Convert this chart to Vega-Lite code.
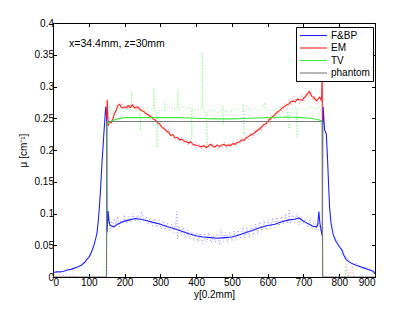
{
  "$schema": "https://vega.github.io/schema/vega-lite/v6.json",
  "width": 322,
  "height": 254,
  "autosize": {"type": "none"},
  "padding": {"left": 53, "top": 23, "right": 40, "bottom": 36},
  "background": "white",
  "config": {
    "view": {"stroke": "black", "strokeWidth": 1},
    "font": "Liberation Sans",
    "axis": {
      "grid": false,
      "domainColor": "black",
      "tickColor": "black",
      "labelColor": "black",
      "titleColor": "black",
      "labelFont": "Liberation Sans",
      "labelFontSize": 10,
      "titleFont": "Liberation Sans",
      "titleFontSize": 10,
      "titleFontWeight": "normal",
      "tickSize": -3.5
    },
    "legend": {
      "labelFont": "Liberation Sans",
      "labelFontSize": 10,
      "labelColor": "black"
    }
  },
  "datasets": {
    "main": [
      {"s":"F&BP","x":0,"y":0.007},{"s":"F&BP","x":10,"y":0.008},{"s":"F&BP","x":20,"y":0.008},{"s":"F&BP","x":30,"y":0.009},{"s":"F&BP","x":40,"y":0.011},{"s":"F&BP","x":50,"y":0.012},{"s":"F&BP","x":60,"y":0.014},{"s":"F&BP","x":70,"y":0.016},{"s":"F&BP","x":80,"y":0.019},{"s":"F&BP","x":90,"y":0.024},{"s":"F&BP","x":95,"y":0.028},{"s":"F&BP","x":100,"y":0.031},{"s":"F&BP","x":105,"y":0.036},{"s":"F&BP","x":110,"y":0.043},{"s":"F&BP","x":115,"y":0.051},{"s":"F&BP","x":120,"y":0.062},{"s":"F&BP","x":123,"y":0.07},{"s":"F&BP","x":126,"y":0.085},{"s":"F&BP","x":129,"y":0.105},{"s":"F&BP","x":132,"y":0.13},{"s":"F&BP","x":135,"y":0.16},{"s":"F&BP","x":138,"y":0.19},{"s":"F&BP","x":140,"y":0.205},{"s":"F&BP","x":142,"y":0.225},{"s":"F&BP","x":144,"y":0.24},{"s":"F&BP","x":146,"y":0.257},{"s":"F&BP","x":147.5,"y":0.268},{"s":"F&BP","x":149,"y":0.26},{"s":"F&BP","x":150,"y":0.245},{"s":"F&BP","x":151,"y":0.07},{"s":"F&BP","x":152,"y":0.08},{"s":"F&BP","x":154,"y":0.104},{"s":"F&BP","x":156,"y":0.09},{"s":"F&BP","x":159,"y":0.082},{"s":"F&BP","x":164,"y":0.08},{"s":"F&BP","x":170,"y":0.079},{"s":"F&BP","x":180,"y":0.083},{"s":"F&BP","x":190,"y":0.086},{"s":"F&BP","x":200,"y":0.088},{"s":"F&BP","x":215,"y":0.09},{"s":"F&BP","x":230,"y":0.092},{"s":"F&BP","x":245,"y":0.091},{"s":"F&BP","x":260,"y":0.089},{"s":"F&BP","x":280,"y":0.086},{"s":"F&BP","x":300,"y":0.083},{"s":"F&BP","x":320,"y":0.079},{"s":"F&BP","x":340,"y":0.076},{"s":"F&BP","x":360,"y":0.072},{"s":"F&BP","x":380,"y":0.068},{"s":"F&BP","x":400,"y":0.065},{"s":"F&BP","x":420,"y":0.063},{"s":"F&BP","x":440,"y":0.062},{"s":"F&BP","x":460,"y":0.061},{"s":"F&BP","x":480,"y":0.062},{"s":"F&BP","x":500,"y":0.063},{"s":"F&BP","x":520,"y":0.066},{"s":"F&BP","x":540,"y":0.07},{"s":"F&BP","x":560,"y":0.074},{"s":"F&BP","x":580,"y":0.078},{"s":"F&BP","x":600,"y":0.081},{"s":"F&BP","x":620,"y":0.083},{"s":"F&BP","x":640,"y":0.087},{"s":"F&BP","x":660,"y":0.09},{"s":"F&BP","x":675,"y":0.091},{"s":"F&BP","x":688,"y":0.093},{"s":"F&BP","x":697,"y":0.089},{"s":"F&BP","x":706,"y":0.086},{"s":"F&BP","x":716,"y":0.083},{"s":"F&BP","x":726,"y":0.08},{"s":"F&BP","x":736,"y":0.079},{"s":"F&BP","x":740,"y":0.082},{"s":"F&BP","x":743,"y":0.103},{"s":"F&BP","x":746,"y":0.085},{"s":"F&BP","x":750,"y":0.072},{"s":"F&BP","x":752,"y":0.065},{"s":"F&BP","x":753,"y":0.07},{"s":"F&BP","x":754,"y":0.24},{"s":"F&BP","x":755,"y":0.268},{"s":"F&BP","x":757,"y":0.25},{"s":"F&BP","x":759,"y":0.232},{"s":"F&BP","x":762,"y":0.228},{"s":"F&BP","x":764,"y":0.225},{"s":"F&BP","x":767,"y":0.19},{"s":"F&BP","x":770,"y":0.15},{"s":"F&BP","x":773,"y":0.11},{"s":"F&BP","x":777,"y":0.085},{"s":"F&BP","x":783,"y":0.067},{"s":"F&BP","x":790,"y":0.057},{"s":"F&BP","x":800,"y":0.048},{"s":"F&BP","x":808,"y":0.042},{"s":"F&BP","x":812,"y":0.035},{"s":"F&BP","x":820,"y":0.027},{"s":"F&BP","x":830,"y":0.023},{"s":"F&BP","x":840,"y":0.02},{"s":"F&BP","x":855,"y":0.017},{"s":"F&BP","x":870,"y":0.014},{"s":"F&BP","x":885,"y":0.011},{"s":"F&BP","x":895,"y":0.009},{"s":"F&BP","x":900,"y":0.005},
      {"s":"EM","x":150,"y":0.25},{"s":"EM","x":151.5,"y":0.279},{"s":"EM","x":154,"y":0.238},{"s":"EM","x":158,"y":0.244},{"s":"EM","x":163,"y":0.243},{"s":"EM","x":168,"y":0.25},{"s":"EM","x":172,"y":0.258},{"s":"EM","x":177,"y":0.263},{"s":"EM","x":181,"y":0.27},{"s":"EM","x":186,"y":0.272},{"s":"EM","x":190,"y":0.268},{"s":"EM","x":195,"y":0.266},{"s":"EM","x":200,"y":0.268},{"s":"EM","x":205,"y":0.266},{"s":"EM","x":210,"y":0.27},{"s":"EM","x":216,"y":0.267},{"s":"EM","x":222,"y":0.271},{"s":"EM","x":228,"y":0.266},{"s":"EM","x":235,"y":0.268},{"s":"EM","x":242,"y":0.265},{"s":"EM","x":248,"y":0.262},{"s":"EM","x":255,"y":0.26},{"s":"EM","x":261,"y":0.257},{"s":"EM","x":267,"y":0.255},{"s":"EM","x":274,"y":0.252},{"s":"EM","x":280,"y":0.249},{"s":"EM","x":286,"y":0.247},{"s":"EM","x":292,"y":0.243},{"s":"EM","x":298,"y":0.241},{"s":"EM","x":304,"y":0.236},{"s":"EM","x":310,"y":0.234},{"s":"EM","x":317,"y":0.23},{"s":"EM","x":323,"y":0.228},{"s":"EM","x":329,"y":0.223},{"s":"EM","x":335,"y":0.224},{"s":"EM","x":341,"y":0.219},{"s":"EM","x":347,"y":0.22},{"s":"EM","x":354,"y":0.216},{"s":"EM","x":360,"y":0.217},{"s":"EM","x":366,"y":0.214},{"s":"EM","x":373,"y":0.213},{"s":"EM","x":379,"y":0.211},{"s":"EM","x":385,"y":0.213},{"s":"EM","x":391,"y":0.209},{"s":"EM","x":397,"y":0.208},{"s":"EM","x":403,"y":0.207},{"s":"EM","x":410,"y":0.206},{"s":"EM","x":416,"y":0.205},{"s":"EM","x":422,"y":0.207},{"s":"EM","x":428,"y":0.204},{"s":"EM","x":434,"y":0.206},{"s":"EM","x":440,"y":0.209},{"s":"EM","x":447,"y":0.206},{"s":"EM","x":453,"y":0.205},{"s":"EM","x":459,"y":0.208},{"s":"EM","x":466,"y":0.205},{"s":"EM","x":472,"y":0.208},{"s":"EM","x":478,"y":0.209},{"s":"EM","x":484,"y":0.206},{"s":"EM","x":490,"y":0.208},{"s":"EM","x":496,"y":0.207},{"s":"EM","x":503,"y":0.21},{"s":"EM","x":509,"y":0.209},{"s":"EM","x":515,"y":0.212},{"s":"EM","x":522,"y":0.213},{"s":"EM","x":528,"y":0.216},{"s":"EM","x":534,"y":0.215},{"s":"EM","x":540,"y":0.219},{"s":"EM","x":546,"y":0.221},{"s":"EM","x":553,"y":0.224},{"s":"EM","x":559,"y":0.225},{"s":"EM","x":565,"y":0.228},{"s":"EM","x":571,"y":0.231},{"s":"EM","x":578,"y":0.233},{"s":"EM","x":584,"y":0.237},{"s":"EM","x":590,"y":0.24},{"s":"EM","x":597,"y":0.242},{"s":"EM","x":603,"y":0.247},{"s":"EM","x":609,"y":0.25},{"s":"EM","x":615,"y":0.253},{"s":"EM","x":621,"y":0.256},{"s":"EM","x":628,"y":0.26},{"s":"EM","x":634,"y":0.262},{"s":"EM","x":640,"y":0.266},{"s":"EM","x":646,"y":0.268},{"s":"EM","x":652,"y":0.271},{"s":"EM","x":658,"y":0.272},{"s":"EM","x":665,"y":0.276},{"s":"EM","x":671,"y":0.277},{"s":"EM","x":677,"y":0.276},{"s":"EM","x":683,"y":0.28},{"s":"EM","x":690,"y":0.279},{"s":"EM","x":696,"y":0.278},{"s":"EM","x":702,"y":0.282},{"s":"EM","x":708,"y":0.286},{"s":"EM","x":713,"y":0.29},{"s":"EM","x":716,"y":0.292},{"s":"EM","x":720,"y":0.288},{"s":"EM","x":724,"y":0.284},{"s":"EM","x":729,"y":0.283},{"s":"EM","x":733,"y":0.279},{"s":"EM","x":737,"y":0.278},{"s":"EM","x":741,"y":0.281},{"s":"EM","x":745,"y":0.283},{"s":"EM","x":749,"y":0.279},{"s":"EM","x":751,"y":0.285},{"s":"EM","x":752.5,"y":0.33},{"s":"EM","x":753.5,"y":0},
      {"s":"TV","x":149.5,"y":0},{"s":"TV","x":150.5,"y":0.238},{"s":"TV","x":155,"y":0.243},{"s":"TV","x":165,"y":0.246},{"s":"TV","x":180,"y":0.249},{"s":"TV","x":200,"y":0.251},{"s":"TV","x":250,"y":0.251},{"s":"TV","x":300,"y":0.251},{"s":"TV","x":350,"y":0.251},{"s":"TV","x":400,"y":0.25},{"s":"TV","x":450,"y":0.249},{"s":"TV","x":500,"y":0.249},{"s":"TV","x":550,"y":0.25},{"s":"TV","x":600,"y":0.251},{"s":"TV","x":650,"y":0.252},{"s":"TV","x":690,"y":0.251},{"s":"TV","x":720,"y":0.25},{"s":"TV","x":740,"y":0.248},{"s":"TV","x":750,"y":0.246},{"s":"TV","x":752.5,"y":0.243},{"s":"TV","x":753.5,"y":0},
      {"s":"phantom","x":0,"y":0},{"s":"phantom","x":149.6,"y":0},{"s":"phantom","x":150,"y":0.245},{"s":"phantom","x":753,"y":0.245},{"s":"phantom","x":753.4,"y":0},{"s":"phantom","x":900,"y":0}
    ],
    "noise": [
      {"s":"F&BP","g":1,"x":152,"y":0.075},{"s":"F&BP","g":1,"x":156,"y":0.095},{"s":"F&BP","g":1,"x":160,"y":0.072},{"s":"F&BP","g":1,"x":164,"y":0.088},{"s":"F&BP","g":1,"x":168,"y":0.078},{"s":"F&BP","g":1,"x":172,"y":0.092},{"s":"F&BP","g":1,"x":176,"y":0.082},{"s":"F&BP","g":1,"x":180,"y":0.095},{"s":"F&BP","g":1,"x":185,"y":0.079},{"s":"F&BP","g":1,"x":190,"y":0.09},{"s":"F&BP","g":1,"x":195,"y":0.085},{"s":"F&BP","g":1,"x":200,"y":0.098},{"s":"F&BP","g":1,"x":206,"y":0.084},{"s":"F&BP","g":1,"x":212,"y":0.096},{"s":"F&BP","g":1,"x":218,"y":0.087},{"s":"F&BP","g":1,"x":224,"y":0.1},{"s":"F&BP","g":1,"x":230,"y":0.088},{"s":"F&BP","g":1,"x":236,"y":0.097},{"s":"F&BP","g":1,"x":242,"y":0.086},{"s":"F&BP","g":1,"x":248,"y":0.103},{"s":"F&BP","g":1,"x":254,"y":0.088},{"s":"F&BP","g":1,"x":260,"y":0.095},{"s":"F&BP","g":1,"x":266,"y":0.083},{"s":"F&BP","g":1,"x":272,"y":0.094},{"s":"F&BP","g":1,"x":278,"y":0.08},{"s":"F&BP","g":1,"x":284,"y":0.092},{"s":"F&BP","g":1,"x":290,"y":0.078},{"s":"F&BP","g":1,"x":296,"y":0.089},{"s":"F&BP","g":1,"x":302,"y":0.076},{"s":"F&BP","g":1,"x":308,"y":0.088},{"s":"F&BP","g":1,"x":314,"y":0.074},{"s":"F&BP","g":1,"x":320,"y":0.085},{"s":"F&BP","g":1,"x":326,"y":0.072},{"s":"F&BP","g":1,"x":332,"y":0.083},{"s":"F&BP","g":1,"x":338,"y":0.07},{"s":"F&BP","g":1,"x":344,"y":0.087},{"s":"F&BP","g":1,"x":346,"y":0.103},{"s":"F&BP","g":1,"x":348,"y":0.06},{"s":"F&BP","g":1,"x":352,"y":0.079},{"s":"F&BP","g":1,"x":358,"y":0.066},{"s":"F&BP","g":1,"x":364,"y":0.078},{"s":"F&BP","g":1,"x":370,"y":0.061},{"s":"F&BP","g":1,"x":376,"y":0.074},{"s":"F&BP","g":1,"x":382,"y":0.06},{"s":"F&BP","g":1,"x":388,"y":0.071},{"s":"F&BP","g":1,"x":394,"y":0.057},{"s":"F&BP","g":1,"x":400,"y":0.07},{"s":"F&BP","g":1,"x":406,"y":0.056},{"s":"F&BP","g":1,"x":412,"y":0.069},{"s":"F&BP","g":1,"x":418,"y":0.053},{"s":"F&BP","g":1,"x":424,"y":0.068},{"s":"F&BP","g":1,"x":430,"y":0.055},{"s":"F&BP","g":1,"x":436,"y":0.07},{"s":"F&BP","g":1,"x":442,"y":0.054},{"s":"F&BP","g":1,"x":448,"y":0.066},{"s":"F&BP","g":1,"x":454,"y":0.055},{"s":"F&BP","g":1,"x":460,"y":0.068},{"s":"F&BP","g":1,"x":466,"y":0.05},{"s":"F&BP","g":1,"x":470,"y":0.075},{"s":"F&BP","g":1,"x":476,"y":0.056},{"s":"F&BP","g":1,"x":482,"y":0.07},{"s":"F&BP","g":1,"x":488,"y":0.055},{"s":"F&BP","g":1,"x":494,"y":0.071},{"s":"F&BP","g":1,"x":500,"y":0.057},{"s":"F&BP","g":1,"x":506,"y":0.072},{"s":"F&BP","g":1,"x":512,"y":0.058},{"s":"F&BP","g":1,"x":518,"y":0.074},{"s":"F&BP","g":1,"x":524,"y":0.06},{"s":"F&BP","g":1,"x":530,"y":0.078},{"s":"F&BP","g":1,"x":536,"y":0.062},{"s":"F&BP","g":1,"x":542,"y":0.077},{"s":"F&BP","g":1,"x":548,"y":0.063},{"s":"F&BP","g":1,"x":554,"y":0.081},{"s":"F&BP","g":1,"x":560,"y":0.066},{"s":"F&BP","g":1,"x":566,"y":0.083},{"s":"F&BP","g":1,"x":572,"y":0.068},{"s":"F&BP","g":1,"x":578,"y":0.087},{"s":"F&BP","g":1,"x":584,"y":0.072},{"s":"F&BP","g":1,"x":590,"y":0.089},{"s":"F&BP","g":1,"x":596,"y":0.074},{"s":"F&BP","g":1,"x":602,"y":0.09},{"s":"F&BP","g":1,"x":608,"y":0.076},{"s":"F&BP","g":1,"x":614,"y":0.093},{"s":"F&BP","g":1,"x":620,"y":0.078},{"s":"F&BP","g":1,"x":626,"y":0.094},{"s":"F&BP","g":1,"x":632,"y":0.08},{"s":"F&BP","g":1,"x":638,"y":0.095},{"s":"F&BP","g":1,"x":644,"y":0.082},{"s":"F&BP","g":1,"x":650,"y":0.1},{"s":"F&BP","g":1,"x":656,"y":0.085},{"s":"F&BP","g":1,"x":660,"y":0.105},{"s":"F&BP","g":1,"x":664,"y":0.084},{"s":"F&BP","g":1,"x":670,"y":0.098},{"s":"F&BP","g":1,"x":676,"y":0.086},{"s":"F&BP","g":1,"x":682,"y":0.1},{"s":"F&BP","g":1,"x":688,"y":0.082},{"s":"F&BP","g":1,"x":694,"y":0.095},{"s":"F&BP","g":1,"x":700,"y":0.083},{"s":"F&BP","g":1,"x":706,"y":0.092},{"s":"F&BP","g":1,"x":712,"y":0.078},{"s":"F&BP","g":1,"x":718,"y":0.09},{"s":"F&BP","g":1,"x":724,"y":0.076},{"s":"F&BP","g":1,"x":730,"y":0.088},{"s":"F&BP","g":1,"x":736,"y":0.074},{"s":"F&BP","g":1,"x":742,"y":0.086},{"s":"F&BP","g":1,"x":748,"y":0.072},{"s":"F&BP","g":1,"x":752,"y":0.08},
      {"s":"F&BP","g":2,"x":790,"y":0.062},{"s":"F&BP","g":2,"x":800,"y":0.052},{"s":"F&BP","g":2,"x":810,"y":0.038},{"s":"F&BP","g":2,"x":822,"y":0.03},{"s":"F&BP","g":2,"x":835,"y":0.02},{"s":"F&BP","g":2,"x":850,"y":0.021},{"s":"F&BP","g":2,"x":865,"y":0.013},{"s":"F&BP","g":2,"x":880,"y":0.015},{"s":"F&BP","g":2,"x":895,"y":0.008},
      {"s":"EM","g":1,"x":152,"y":0.275},{"s":"EM","g":1,"x":156,"y":0.245},{"s":"EM","g":1,"x":160,"y":0.25},{"s":"EM","g":1,"x":165,"y":0.242},{"s":"EM","g":1,"x":170,"y":0.255},{"s":"EM","g":1,"x":175,"y":0.26},{"s":"EM","g":1,"x":180,"y":0.268},{"s":"EM","g":1,"x":186,"y":0.265},{"s":"EM","g":1,"x":192,"y":0.275},{"s":"EM","g":1,"x":198,"y":0.266},{"s":"EM","g":1,"x":204,"y":0.272},{"s":"EM","g":1,"x":210,"y":0.264},{"s":"EM","g":1,"x":216,"y":0.273},{"s":"EM","g":1,"x":222,"y":0.266},{"s":"EM","g":1,"x":228,"y":0.272},{"s":"EM","g":1,"x":234,"y":0.263},{"s":"EM","g":1,"x":240,"y":0.27},{"s":"EM","g":1,"x":246,"y":0.26},{"s":"EM","g":1,"x":252,"y":0.266},{"s":"EM","g":1,"x":258,"y":0.255},{"s":"EM","g":1,"x":264,"y":0.262},{"s":"EM","g":1,"x":270,"y":0.25},{"s":"EM","g":1,"x":276,"y":0.256},{"s":"EM","g":1,"x":282,"y":0.244},{"s":"EM","g":1,"x":288,"y":0.25},{"s":"EM","g":1,"x":294,"y":0.238},{"s":"EM","g":1,"x":300,"y":0.245},{"s":"EM","g":1,"x":306,"y":0.232},{"s":"EM","g":1,"x":312,"y":0.238},{"s":"EM","g":1,"x":318,"y":0.226},{"s":"EM","g":1,"x":324,"y":0.233},{"s":"EM","g":1,"x":330,"y":0.22},{"s":"EM","g":1,"x":336,"y":0.226},{"s":"EM","g":1,"x":342,"y":0.215},{"s":"EM","g":1,"x":348,"y":0.222},{"s":"EM","g":1,"x":354,"y":0.213},{"s":"EM","g":1,"x":360,"y":0.22},{"s":"EM","g":1,"x":366,"y":0.21},{"s":"EM","g":1,"x":372,"y":0.217},{"s":"EM","g":1,"x":378,"y":0.207},{"s":"EM","g":1,"x":384,"y":0.215},{"s":"EM","g":1,"x":390,"y":0.205},{"s":"EM","g":1,"x":396,"y":0.212},{"s":"EM","g":1,"x":402,"y":0.203},{"s":"EM","g":1,"x":408,"y":0.21},{"s":"EM","g":1,"x":414,"y":0.201},{"s":"EM","g":1,"x":420,"y":0.209},{"s":"EM","g":1,"x":426,"y":0.202},{"s":"EM","g":1,"x":432,"y":0.21},{"s":"EM","g":1,"x":438,"y":0.203},{"s":"EM","g":1,"x":444,"y":0.211},{"s":"EM","g":1,"x":450,"y":0.202},{"s":"EM","g":1,"x":456,"y":0.21},{"s":"EM","g":1,"x":462,"y":0.2},{"s":"EM","g":1,"x":468,"y":0.209},{"s":"EM","g":1,"x":474,"y":0.203},{"s":"EM","g":1,"x":480,"y":0.212},{"s":"EM","g":1,"x":486,"y":0.204},{"s":"EM","g":1,"x":492,"y":0.211},{"s":"EM","g":1,"x":498,"y":0.205},{"s":"EM","g":1,"x":504,"y":0.214},{"s":"EM","g":1,"x":510,"y":0.207},{"s":"EM","g":1,"x":516,"y":0.216},{"s":"EM","g":1,"x":522,"y":0.209},{"s":"EM","g":1,"x":528,"y":0.219},{"s":"EM","g":1,"x":534,"y":0.212},{"s":"EM","g":1,"x":540,"y":0.223},{"s":"EM","g":1,"x":546,"y":0.215},{"s":"EM","g":1,"x":552,"y":0.227},{"s":"EM","g":1,"x":558,"y":0.219},{"s":"EM","g":1,"x":564,"y":0.232},{"s":"EM","g":1,"x":570,"y":0.224},{"s":"EM","g":1,"x":576,"y":0.237},{"s":"EM","g":1,"x":582,"y":0.229},{"s":"EM","g":1,"x":588,"y":0.243},{"s":"EM","g":1,"x":594,"y":0.236},{"s":"EM","g":1,"x":600,"y":0.249},{"s":"EM","g":1,"x":606,"y":0.242},{"s":"EM","g":1,"x":612,"y":0.256},{"s":"EM","g":1,"x":618,"y":0.248},{"s":"EM","g":1,"x":624,"y":0.262},{"s":"EM","g":1,"x":630,"y":0.255},{"s":"EM","g":1,"x":636,"y":0.268},{"s":"EM","g":1,"x":642,"y":0.26},{"s":"EM","g":1,"x":648,"y":0.274},{"s":"EM","g":1,"x":654,"y":0.265},{"s":"EM","g":1,"x":660,"y":0.28},{"s":"EM","g":1,"x":666,"y":0.27},{"s":"EM","g":1,"x":672,"y":0.285},{"s":"EM","g":1,"x":678,"y":0.274},{"s":"EM","g":1,"x":684,"y":0.282},{"s":"EM","g":1,"x":690,"y":0.272},{"s":"EM","g":1,"x":696,"y":0.288},{"s":"EM","g":1,"x":702,"y":0.278},{"s":"EM","g":1,"x":708,"y":0.29},{"s":"EM","g":1,"x":714,"y":0.283},{"s":"EM","g":1,"x":720,"y":0.295},{"s":"EM","g":1,"x":726,"y":0.278},{"s":"EM","g":1,"x":732,"y":0.285},{"s":"EM","g":1,"x":738,"y":0.272},{"s":"EM","g":1,"x":744,"y":0.285},{"s":"EM","g":1,"x":750,"y":0.276},{"s":"EM","g":1,"x":752,"y":0.3},
      {"s":"EM","g":2,"x":10,"y":0.0},{"s":"EM","g":2,"x":18,"y":0.005},{"s":"EM","g":2,"x":26,"y":0.001},{"s":"EM","g":2,"x":36,"y":0.005},{"s":"EM","g":2,"x":46,"y":0.0},{"s":"EM","g":2,"x":56,"y":0.004},{"s":"EM","g":2,"x":64,"y":0.0},
      {"s":"EM","g":3,"x":815,"y":0.0},{"s":"EM","g":3,"x":820,"y":0.02},{"s":"EM","g":3,"x":826,"y":0.0},{"s":"EM","g":3,"x":836,"y":0.018},{"s":"EM","g":3,"x":842,"y":0.0},
      {"s":"TV","g":1,"x":150.5,"y":0.24},{"s":"TV","g":1,"x":153,"y":0.26},{"s":"TV","g":1,"x":158,"y":0.27},{"s":"TV","g":1,"x":165,"y":0.255},{"s":"TV","g":1,"x":172,"y":0.265},{"s":"TV","g":1,"x":180,"y":0.258},{"s":"TV","g":1,"x":188,"y":0.262},{"s":"TV","g":1,"x":196,"y":0.26},{"s":"TV","g":1,"x":204,"y":0.265},{"s":"TV","g":1,"x":212,"y":0.262},{"s":"TV","g":1,"x":218,"y":0.265},{"s":"TV","g":1,"x":219,"y":0.293},{"s":"TV","g":1,"x":220,"y":0.262},{"s":"TV","g":1,"x":228,"y":0.26},{"s":"TV","g":1,"x":236,"y":0.264},{"s":"TV","g":1,"x":243,"y":0.262},{"s":"TV","g":1,"x":244,"y":0.229},{"s":"TV","g":1,"x":245,"y":0.262},{"s":"TV","g":1,"x":255,"y":0.265},{"s":"TV","g":1,"x":265,"y":0.268},{"s":"TV","g":1,"x":275,"y":0.262},{"s":"TV","g":1,"x":281,"y":0.266},{"s":"TV","g":1,"x":282,"y":0.297},{"s":"TV","g":1,"x":283,"y":0.262},{"s":"TV","g":1,"x":290,"y":0.26},{"s":"TV","g":1,"x":291,"y":0.204},{"s":"TV","g":1,"x":292,"y":0.258},{"s":"TV","g":1,"x":300,"y":0.264},{"s":"TV","g":1,"x":310,"y":0.262},{"s":"TV","g":1,"x":312,"y":0.277},{"s":"TV","g":1,"x":314,"y":0.262},{"s":"TV","g":1,"x":325,"y":0.268},{"s":"TV","g":1,"x":335,"y":0.264},{"s":"TV","g":1,"x":348,"y":0.266},{"s":"TV","g":1,"x":349,"y":0.295},{"s":"TV","g":1,"x":350,"y":0.262},{"s":"TV","g":1,"x":360,"y":0.27},{"s":"TV","g":1,"x":370,"y":0.265},{"s":"TV","g":1,"x":380,"y":0.268},{"s":"TV","g":1,"x":387,"y":0.264},{"s":"TV","g":1,"x":388,"y":0.217},{"s":"TV","g":1,"x":389,"y":0.262},{"s":"TV","g":1,"x":398,"y":0.265},{"s":"TV","g":1,"x":408,"y":0.262},{"s":"TV","g":1,"x":416,"y":0.266},{"s":"TV","g":1,"x":417,"y":0.354},{"s":"TV","g":1,"x":418,"y":0.262},{"s":"TV","g":1,"x":425,"y":0.26},{"s":"TV","g":1,"x":429,"y":0.258},{"s":"TV","g":1,"x":430,"y":0.203},{"s":"TV","g":1,"x":431,"y":0.26},{"s":"TV","g":1,"x":440,"y":0.263},{"s":"TV","g":1,"x":452,"y":0.262},{"s":"TV","g":1,"x":462,"y":0.258},{"s":"TV","g":1,"x":472,"y":0.262},{"s":"TV","g":1,"x":474,"y":0.27},{"s":"TV","g":1,"x":476,"y":0.24},{"s":"TV","g":1,"x":478,"y":0.262},{"s":"TV","g":1,"x":490,"y":0.26},{"s":"TV","g":1,"x":500,"y":0.262},{"s":"TV","g":1,"x":512,"y":0.265},{"s":"TV","g":1,"x":522,"y":0.263},{"s":"TV","g":1,"x":530,"y":0.262},{"s":"TV","g":1,"x":532,"y":0.273},{"s":"TV","g":1,"x":533,"y":0.225},{"s":"TV","g":1,"x":534,"y":0.262},{"s":"TV","g":1,"x":545,"y":0.265},{"s":"TV","g":1,"x":556,"y":0.262},{"s":"TV","g":1,"x":566,"y":0.268},{"s":"TV","g":1,"x":576,"y":0.262},{"s":"TV","g":1,"x":586,"y":0.265},{"s":"TV","g":1,"x":592,"y":0.275},{"s":"TV","g":1,"x":594,"y":0.262},{"s":"TV","g":1,"x":605,"y":0.264},{"s":"TV","g":1,"x":615,"y":0.262},{"s":"TV","g":1,"x":625,"y":0.266},{"s":"TV","g":1,"x":635,"y":0.262},{"s":"TV","g":1,"x":645,"y":0.265},{"s":"TV","g":1,"x":655,"y":0.262},{"s":"TV","g":1,"x":660,"y":0.233},{"s":"TV","g":1,"x":662,"y":0.262},{"s":"TV","g":1,"x":672,"y":0.268},{"s":"TV","g":1,"x":680,"y":0.262},{"s":"TV","g":1,"x":682,"y":0.22},{"s":"TV","g":1,"x":684,"y":0.265},{"s":"TV","g":1,"x":694,"y":0.268},{"s":"TV","g":1,"x":704,"y":0.262},{"s":"TV","g":1,"x":714,"y":0.265},{"s":"TV","g":1,"x":724,"y":0.27},{"s":"TV","g":1,"x":734,"y":0.263},{"s":"TV","g":1,"x":742,"y":0.268},{"s":"TV","g":1,"x":748,"y":0.262},{"s":"TV","g":1,"x":752,"y":0.26},
      {"s":"TV","g":2,"x":148.5,"y":0.0},{"s":"TV","g":2,"x":149,"y":0.04},
      {"s":"TV","g":3,"x":816,"y":0.0},{"s":"TV","g":3,"x":818,"y":0.015},{"s":"TV","g":3,"x":821,"y":0.0}
    ],
    "note": [{"x": 45, "y": 0.3674, "t": "x=34.4mm, z=30mm"}]
  },
  "layer": [
    {
      "data": {"name": "noise"},
      "mark": {"type": "line", "strokeDash": [1, 2], "strokeWidth": 1, "clip": true},
      "encoding": {
        "x": {"field": "x", "type": "quantitative", "scale": {"domain": [0, 900], "nice": false, "zero": false},
              "axis": {"orient": "bottom", "values": [0,100,200,300,400,500,600,700,800,900], "title": "y[0.2mm]", "labelPadding": 4, "titlePadding": 2}},
        "y": {"field": "y", "type": "quantitative", "scale": {"domain": [0, 0.4], "nice": false, "zero": false},
              "axis": {"orient": "left", "values": [0,0.05,0.1,0.15,0.2,0.25,0.3,0.35,0.4], "format": "~g", "title": "μ [cm⁻¹]", "labelPadding": 3, "titlePadding": 6}},
        "color": {"field": "s", "type": "nominal", "scale": {"domain": ["F&BP", "EM", "TV"], "range": ["#9999ff", "#ff9999", "#88f588"]}, "legend": null},
        "detail": {"field": "g", "type": "nominal"}
      }
    },
    {
      "data": {"name": "main"},
      "mark": {"type": "line", "clip": true},
      "encoding": {
        "x": {"field": "x", "type": "quantitative", "axis": null},
        "y": {"field": "y", "type": "quantitative", "axis": null},
        "strokeWidth": {"field": "s", "type": "nominal", "scale": {"domain": ["F&BP", "EM", "TV", "phantom"], "range": [1.1, 1.1, 1.3, 2]}, "legend": null},
        "color": {"field": "s", "type": "nominal", "sort": null,
                  "scale": {"domain": ["F&BP", "EM", "TV", "phantom"], "range": ["#2020ff", "#ff2020", "#40e840", "#7a7a7a"]},
                  "legend": {"title": null, "orient": "none", "legendX": 243, "legendY": 4, "symbolType": "M-3,0H3", "symbolSize": 81, "symbolOffset": 9, "symbolStrokeWidth": 1.2,
                             "strokeColor": "black", "fillColor": "white", "padding": 3, "rowPadding": 1.5, "labelOffset": 12}}
      }
    },
    {
      "data": {"name": "note"},
      "mark": {"type": "text", "align": "left", "baseline": "middle", "fontSize": 10.5, "font": "Liberation Sans", "color": "black"},
      "encoding": {
        "x": {"field": "x", "type": "quantitative", "axis": null},
        "y": {"field": "y", "type": "quantitative", "axis": null},
        "text": {"field": "t"}
      }
    },
    {
      "data": {"name": "note"},
      "mark": {"type": "point", "opacity": 0},
      "encoding": {
        "x": {"field": "x", "type": "quantitative", "axis": {"orient": "top", "values": [0,100,200,300,400,500,600,700,800,900], "labels": false, "domain": false, "title": null}},
        "y": {"field": "y", "type": "quantitative", "axis": {"orient": "right", "values": [0,0.05,0.1,0.15,0.2,0.25,0.3,0.35,0.4], "labels": false, "domain": false, "title": null}}
      }
    }
  ],
  "resolve": {"scale": {"color": "independent", "strokeWidth": "independent"}, "axis": {"x": "independent", "y": "independent"}}
}
